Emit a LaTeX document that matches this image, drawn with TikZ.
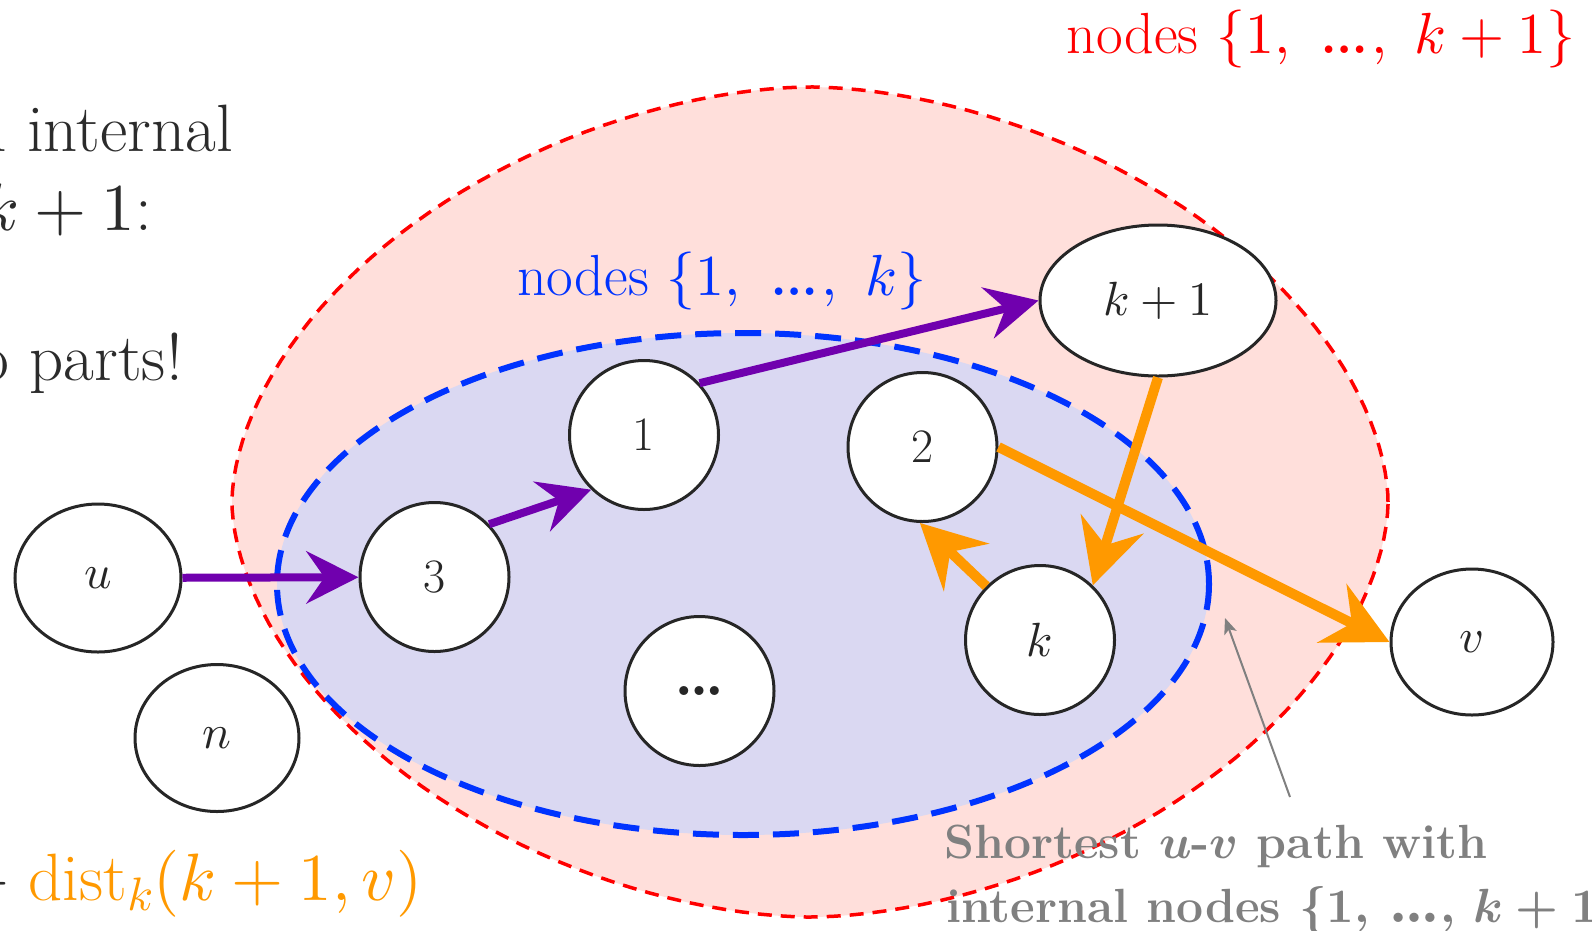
\documentclass[tikz,border=0pt]{standalone}
\usepackage{fontspec}
\usepackage{graphicx}
\DeclareFontShape{OT1}{cmr}{m}{n}{<->cmr10}{}
\DeclareFontShape{OT1}{cmr}{bx}{n}{<->cmbx10}{}
\DeclareFontShape{OML}{cmm}{m}{it}{<->cmmi10}{}
\DeclareFontShape{OML}{cmm}{b}{it}{<->cmmib10}{}
\DeclareFontShape{OMS}{cmsy}{m}{n}{<->cmsy10}{}
\DeclareFontShape{OMS}{cmsy}{b}{n}{<->cmbsy10}{}
\DeclareFontShape{OMX}{cmex}{m}{n}{<->cmex10}{}
\usetikzlibrary{arrows.meta,shapes.geometric}
\definecolor{redfill}{HTML}{FFDFDB}
\definecolor{bluefill}{HTML}{DAD8F2}
\definecolor{redline}{HTML}{FF0000}
\definecolor{blueline}{HTML}{0033FF}
\definecolor{pur}{HTML}{7000AE}
\definecolor{org}{HTML}{FF9900}
\definecolor{nodegray}{HTML}{262626}
\definecolor{textdark}{HTML}{2B2B2B}
\definecolor{graytxt}{HTML}{808080}
\newcommand{\myell}{\mbox{\scalebox{1.6}{…}}}
\newcommand{\myellb}{\mbox{\scalebox{1.35}{…}}}
\begin{document}
\begin{tikzpicture}[x=1pt,y=-1pt,
  vtx/.style={circle, draw=nodegray, line width=3pt, fill=white, minimum size=149pt, inner sep=0pt, text=nodegray, font=\fontsize{48}{52}\selectfont},
  evtx/.style={ellipse, draw=nodegray, line width=3pt, fill=white, inner sep=0pt, text=nodegray, font=\fontsize{48}{52}\selectfont},
  parr/.style={draw=pur, line width=8pt, -{Stealth[length=52pt,width=52pt,inset=18pt]}},
  oarr/.style={draw=org, line width=10pt, -{Stealth[length=64pt,width=65pt,inset=22pt]}},
  garr/.style={draw=graytxt, line width=2pt, -{Stealth[length=16pt,width=13pt,inset=4pt]}},
  lefttxt/.style={anchor=base east, inner sep=0pt, text=textdark, font=\fontsize{67}{74}\selectfont},
  setlbl/.style={inner sep=0pt, font=\fontsize{58}{66}\selectfont},
  graylbl/.style={anchor=base west, inner sep=0pt, text=graytxt, font=\fontsize{48}{56}\selectfont\bfseries\boldmath},
]
\useasboundingbox (0,0) rectangle (1592,930);
\clip (0,0) rectangle (1592,930);

% outer set (superellipse)
\path[fill=redfill, draw=redline, line width=3.5pt, dash pattern=on 14pt off 9pt]
  plot[domain=0.5:358.5, samples=180, variable=\t]
  ({810+578*cos(\t)*abs(cos(\t))^0.12}, {502+415*sin(\t)*abs(sin(\t))^0.12}) -- cycle;

% inner set
\path[fill=bluefill, draw=blueline, line width=6pt, dash pattern=on 26pt off 14pt]
  (743,584) ellipse [x radius=466, y radius=251];

% labels
\node[setlbl, anchor=base east, text=redline] (redlbl) at (1576,53) {nodes $\{1,\ \myell,\ k+1\}$};
\node[setlbl, anchor=base west, text=blueline] (bluelbl) at (517,295) {nodes $\{1,\ \myell,\ k\}$};

\node[lefttxt] (l1) at (233,151) {with internal};
\node[lefttxt] (l2) at (152,230) {$k+1$:};
\node[lefttxt] (l3) at (183,380) {two parts!};
\node[lefttxt] (l4) at (423,900) {$+\;\color{org}\mathrm{dist}_k(k+1,v)$};

\node[graylbl] (g1) at (944,858) {Shortest $u$-$v$ path with};
\node[graylbl] (g2) at (946,922) {internal nodes $\{1,\,\myellb,\,k+1\}$};

% nodes
\node[evtx, minimum width=166pt, minimum height=148pt] (u) at (98,578) {$u$};
\node[evtx, minimum width=164pt, minimum height=147pt] (n) at (217,738) {$n$};
\node[vtx] (n3) at (434.5,577) {3};
\node[vtx] (n1) at (644,435) {1};
\node[vtx] (n2) at (922.5,447) {2};
\node[vtx] (dots) at (699.5,691) {\scalebox{1.3}{\bfseries …}};
\node[vtx] (k) at (1040,640) {$k$};
\node[evtx, minimum width=236pt, minimum height=151pt] (kp) at (1158,300.5) {$k+1$};
\node[evtx, minimum width=162pt, minimum height=146pt] (v) at (1472,642) {$v$};

% arrows
\draw[parr] (u) -- (n3);
\draw[parr] (n3.44) -- (n1.226);
\draw[parr] (n1.43) -- (kp.west);
\draw[oarr] (kp.south) -- (k.46);
\draw[oarr] (k.135) -- (n2.268);
\draw[oarr] (n2.east) -- (v.west);

\coordinate (gs) at (1290,797);
\coordinate (ge) at (1225,618);
\draw[garr] (gs) -- (ge);
\end{tikzpicture}
\end{document}
